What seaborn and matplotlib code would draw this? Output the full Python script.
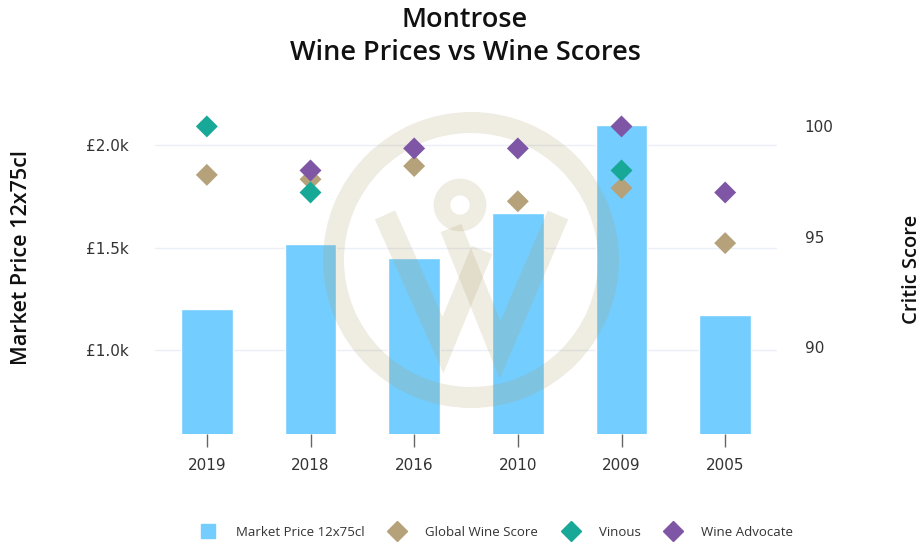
import numpy as np
import pandas as pd
import matplotlib
matplotlib.use("Agg")
import matplotlib.pyplot as plt
from matplotlib.patches import Wedge, Circle
from matplotlib.lines import Line2D
import seaborn as sns

# data
vintages = ["2019", "2018", "2016", "2010", "2009", "2005"]
market_price = [1200, 1515, 1450, 1670, 2100, 1170]
global_wine_score = [97.8, 97.6, 98.2, 96.6, 97.2, 94.7]
vinous = [100, 97, np.nan, np.nan, 98, np.nan]
wine_advocate = [np.nan, 98, 99, 99, 100, 97]

price_ticks = [1000, 1500, 2000]
price_tick_labels = ["£1.0k", "£1.5k", "£2.0k"]
score_ticks = [90, 95, 100]

bar_color = "#73CDFE"
critic_colors = {"Global Wine Score": "#B5A27A",
                 "Vinous": "#17A897",
                 "Wine Advocate": "#7F56A5"}

sns.set_style("white")
plt.rcParams["font.family"] = ["DejaVu Sans"]

price_df = pd.DataFrame({"vintage": vintages, "price": market_price})
scores_df = pd.concat([
    pd.DataFrame({"pos": range(len(vintages)), "score": global_wine_score, "critic": "Global Wine Score"}),
    pd.DataFrame({"pos": range(len(vintages)), "score": vinous, "critic": "Vinous"}),
    pd.DataFrame({"pos": range(len(vintages)), "score": wine_advocate, "critic": "Wine Advocate"}),
]).dropna()

fig = plt.figure(figsize=(9.23, 5.44), dpi=100)
ax = fig.add_axes([155 / 923, 110 / 544, 622 / 923, 334 / 544])

# bars
sns.barplot(data=price_df, x="vintage", y="price", color=bar_color, width=0.5,
            saturation=1, ax=ax, zorder=2)
ax.set_xlim(-0.5, 5.5)
ax.set_ylim(590, 2220)
ax.set_yticks(price_ticks)
ax.set_yticklabels(price_tick_labels)
for t in price_ticks:
    ax.axhline(t, color="#EBEFF8", lw=1, zorder=1)
for s in ax.spines.values():
    s.set_visible(False)
ax.tick_params(axis="y", length=0, pad=19, labelsize=11, labelcolor="#333333")
ax.tick_params(axis="x", length=9, width=1, color="#666666", pad=8,
               labelsize=11, labelcolor="#333333", bottom=True)
ax.set_xlabel("")
ax.set_ylabel("")

# watermark logo (in inches of the figure)
wm = dict(transform=fig.dpi_scale_trans, color="#AFA06E", alpha=0.2, zorder=3, clip_on=False)
def inch(x, y):
    return x / 100, (544 - y) / 100
ring = Wedge(inch(471, 260), 1.48, 0, 360, width=0.21, lw=0, **wm)
ax.add_artist(ring)
for pts in [[(385, 215), (443, 345), (482, 250)], [(451, 228), (500, 350), (558, 215)]]:
    xs, ys = zip(*[inch(*p) for p in pts])
    ax.add_artist(Line2D(xs, ys, lw=16, solid_joinstyle="miter", solid_capstyle="butt", **wm))
loop = Circle(inch(460, 205), 0.18, fill=False, lw=12, **wm)
ax.add_artist(loop)

# critic scores on the right axis
ax2 = ax.twinx()
sns.scatterplot(data=scores_df, x="pos", y="score", hue="critic", palette=critic_colors,
                marker="D", s=125, linewidth=0, legend=False, ax=ax2, zorder=5)
ax2.set_ylim(86.03, 101.2)
ax2.set_yticks(score_ticks)
for s in ax2.spines.values():
    s.set_visible(False)
ax2.tick_params(axis="y", length=0, pad=20, labelsize=11, labelcolor="#333333")
ax2.set_xlabel("")
ax2.set_ylabel("")
ax2.set_xlim(-0.5, 5.5)

title_font = ["Open Sans", "DejaVu Sans"]
fig.text(465 / 923, 1 - 20 / 544, "Montrose", ha="center", va="center", fontsize=19.5,
         fontweight="semibold", family=title_font, color="#111111")
fig.text(465 / 923, 1 - 53 / 544, "Wine Prices vs Wine Scores", ha="center", va="center",
         fontsize=19.5, fontweight="semibold", family=title_font, color="#111111")
fig.text(22 / 923, 1 - 258 / 544, "Market Price 12x75cl", rotation=90, ha="center",
         va="center", fontsize=15.5, fontweight="semibold", family=title_font, color="#111111")
fig.text(912 / 923, 1 - 269 / 544, "Critic Score", rotation=90, ha="center",
         va="center", fontsize=14.5, fontweight="semibold", family=title_font, color="#111111")

handles = [Line2D([], [], marker="s", ls="", color=bar_color, markersize=10)]
labels = ["Market Price 12x75cl"]
for name, col in critic_colors.items():
    handles.append(Line2D([], [], marker="D", ls="", color=col, markersize=10))
    labels.append(name)
fig.legend(handles, labels, loc="center", bbox_to_anchor=(494 / 923, 1 - 532 / 544),
           ncol=4, frameon=False, prop={"family": title_font, "size": 9.5},
           handletextpad=1.1, columnspacing=1.5, labelcolor="#333333")

fig.savefig("out.png", dpi=100)
